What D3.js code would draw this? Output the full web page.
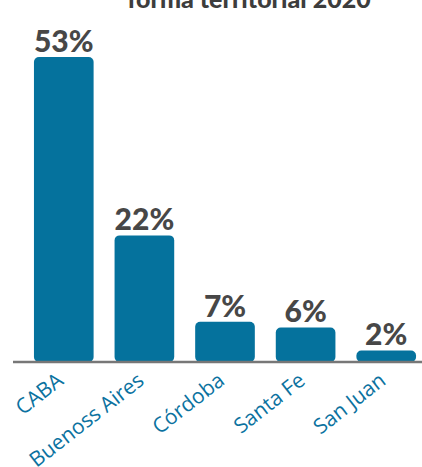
<!DOCTYPE html>
<html>
<head>
<meta charset="utf-8">
<script src="https://cdn.jsdelivr.net/npm/d3@7"></script>
<style>
  body { margin: 0; background: #fff; }
  svg { display: block; }
</style>
</head>
<body>
<svg id="chart"></svg>
<script>
const categories = ["CABA", "Buenoss Aires", "Córdoba", "Santa Fe", "San Juan"];
const values = [53, 22, 7, 6, 2];
const labels = ["53%", "22%", "7%", "6%", "2%"];
const titleLine = "forma territorial 2020";

const width = 422;
const height = 467;
const baseY = 362;

const svg = d3.select("#chart").attr("width", width).attr("height", height);

const x = d3.scaleBand()
  .domain(categories)
  .range([13, 437])
  .paddingInner(0.26)
  .paddingOuter(0.26);

const y = d3.scaleLinear()
  .domain([0, 53])
  .range([baseY, 57]);

// title (its first line sits above the visible frame, as in the source)
svg.append("text")
  .attr("x", 249)
  .attr("y", 8)
  .attr("text-anchor", "middle")
  .attr("font-family", "Lato, sans-serif")
  .attr("font-weight", 900)
  .attr("font-size", 25)
  .attr("fill", "#3d3d3d")
  .text(titleLine);

// bars
svg.selectAll(".bar")
  .data(values)
  .enter().append("rect")
  .attr("class", "bar")
  .attr("x", (d, i) => x(categories[i]))
  .attr("y", d => y(d))
  .attr("width", x.bandwidth())
  .attr("height", d => baseY - y(d))
  .attr("rx", 5)
  .attr("fill", "#05729d");

// value labels
svg.selectAll(".val")
  .data(values)
  .enter().append("text")
  .attr("class", "val")
  .attr("x", (d, i) => x(categories[i]) + x.bandwidth() / 2)
  .attr("y", d => y(d) - 5)
  .attr("text-anchor", "middle")
  .attr("font-family", "Lato, sans-serif")
  .attr("font-weight", 900)
  .attr("font-size", 30)
  .attr("fill", "#474747")
  .text((d, i) => labels[i]);

// baseline
svg.append("line")
  .attr("x1", 13).attr("x2", 422)
  .attr("y1", baseY).attr("y2", baseY)
  .attr("stroke", "#777")
  .attr("stroke-width", 2.5);

// category labels, rotated
svg.selectAll(".cat")
  .data(categories)
  .enter().append("text")
  .attr("class", "cat")
  .attr("transform", d => `translate(${x(d) + x.bandwidth() / 2 + 1},${baseY + 21}) rotate(-38)`)
  .attr("text-anchor", "end")
  .attr("font-family", "'Open Sans', sans-serif")
  .attr("font-weight", 400)
  .attr("font-size", 21)
  .attr("fill", "#0b72a0")
  .text(d => d);
</script>
</body>
</html>
